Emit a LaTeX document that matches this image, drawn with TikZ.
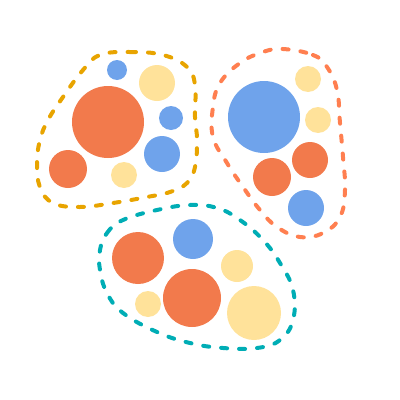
\documentclass[tikz,border=0pt]{standalone}
\definecolor{dotorange}{HTML}{F27A4C}
\definecolor{dotblue}{HTML}{6FA3EB}
\definecolor{dotyellow}{HTML}{FFE29A}
\definecolor{rimgold}{HTML}{E8A400}
\definecolor{rimcoral}{HTML}{FF7F50}
\definecolor{rimteal}{HTML}{00ADB5}
\begin{document}
\begin{tikzpicture}[x=0.25mm, y=-0.25mm,
        bubble/.style={circle, inner sep=0pt, minimum size=#1},
        ob/.style={bubble=#1, fill=dotorange},
        bb/.style={bubble=#1, fill=dotblue},
        yb/.style={bubble=#1, fill=dotyellow},
        rim/.style={line width=1mm, line cap=round, dash pattern=on 1.5mm off 3mm}
      ]
      \useasboundingbox (0,0) rectangle (400,400);

      % First group
      \node[ob=18mm] (g1big) at (108,122) {};
      \node[bb=5mm] (g1top) at (117,70) {};
      \node[yb=9mm] (g1sun) at (157,83) {};
      \node[bb=6mm] (g1east) at (171,118) {};
      \node[bb=9mm] (g1sea) at (162,154) {};
      \node[ob=9.5mm] (g1west) at (68,169) {};
      \node[yb=6.5mm] (g1low) at (124,175) {};
      \draw[rim, rimgold] plot[smooth cycle, tension=0.7] coordinates {
        (100,55) (130,52) (163,55) (187,67) (195,85) (195,117) (197,140)
        (195,167) (187,183) (170,192) (147,197) (113,203) (80,207) (53,203)
        (40,187) (37,163) (40,140) (48,120) (63,97) (83,70)};

      % Second group
      \node[bb=18mm] (g2big) at (264,117) {};
      \node[yb=6.5mm] (g2top) at (308,79) {};
      \node[yb=6.5mm] (g2east) at (318,120) {};
      \node[ob=9mm] (g2mid) at (310,160) {};
      \node[ob=9.5mm] (g2west) at (272,177) {};
      \node[bb=9mm] (g2low) at (306,208) {};
      \draw[rim, rimcoral] plot[smooth cycle, tension=0.7] coordinates {
        (283,49) (313,55) (327,67) (337,90) (340,123) (343,157) (345,190)
        (340,217) (323,233) (300,237) (277,227) (260,210) (243,187)
        (227,163) (213,137) (213,107) (220,83) (240,63) (263,52)};

      % Third group
      \node[ob=13mm] (g3west) at (138,258) {};
      \node[bb=10mm] (g3top) at (193,239) {};
      \node[yb=8mm] (g3east) at (237,266) {};
      \node[ob=14.5mm] (g3big) at (192,298) {};
      \node[yb=6.5mm] (g3small) at (148,304) {};
      \node[yb=13.5mm] (g3sun) at (254,313) {};
      \draw[rim, rimteal] plot[smooth cycle, tension=0.7] coordinates {
        (100,250) (107,233) (123,220) (157,210) (190,205) (217,208)
        (240,220) (263,240) (280,263) (293,290) (293,320) (280,340)
        (257,348) (223,348) (190,343) (157,332) (123,313) (107,293) (100,270)};

    \end{tikzpicture}
\end{document}
